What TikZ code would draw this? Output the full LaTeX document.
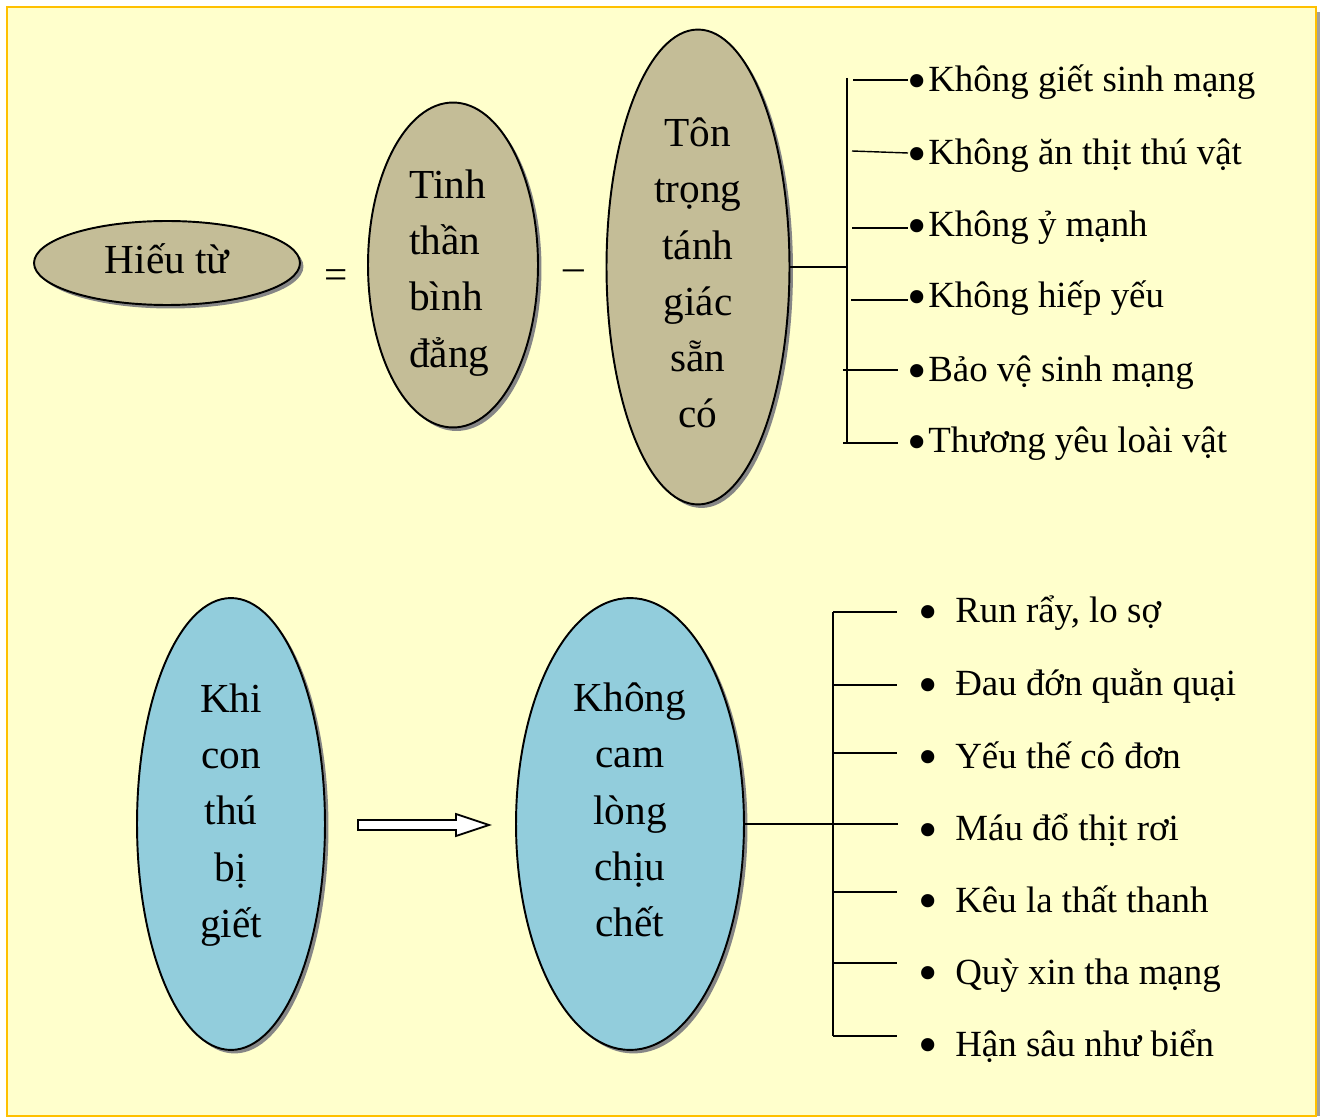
\documentclass[tikz,border=0pt]{standalone}
\usepackage{fontspec}
\setmainfont{Liberation Serif}
\usetikzlibrary{shapes.geometric,shadows}
\definecolor{fundo}{HTML}{FFFFCC}
\definecolor{moldura}{HTML}{FFC000}
\definecolor{caqui}{HTML}{C4BD97}
\definecolor{celeste}{HTML}{92CDDC}
\newcommand{\marca}{\raisebox{-0.2em}{\scalebox{1.5}{•}}}
\tikzset{
  oval/.style={ellipse, draw=black, line width=1.1pt, inner sep=0pt,
    drop shadow={shadow xshift=0.07cm, shadow yshift=-0.07cm, fill=gray!95, opacity=1}},
  bigtext/.style={font=\fontsize{23.5}{32}\selectfont, inner sep=0pt},
  listtext/.style={font=\fontsize{21}{25}\selectfont, inner sep=0pt, anchor=base west},
  linha/.style={line width=0.8pt}
}
\begin{document}
\begin{tikzpicture}[x=0.02cm, y=-0.02cm]
  \useasboundingbox (0,0) rectangle (1320,1118);

  % fundo
  \fill[gray!75] (1316,12) rectangle (1320,1116);
  \filldraw[fill=fundo, draw=moldura, line width=0.04cm] (7,7) rectangle (1316,1116);

  % elipses de cima
  \node[oval, fill=caqui, minimum width=5.32cm, minimum height=1.68cm] (hieu) at (167,263) {};
  \node[bigtext] (hieutxt) at (167,259) {Hiếu từ};
  \node[oval, fill=caqui, minimum width=3.4cm, minimum height=6.5cm] (tinh) at (453,265) {};
  \node[bigtext, align=left, anchor=west] (tinhtxt) at (409,273) {Tinh\\thần\\bình\\đẳng};
  \node[oval, fill=caqui, minimum width=3.66cm, minimum height=9.5cm] (ton) at (698,267) {};
  \node[bigtext, align=center] (tontxt) at (698,273) {Tôn\\trọng\\tánh\\giác\\sẵn\\có};

  % sinais
  \node[bigtext, anchor=base] (igual) at (336,289) {=};
  \node[bigtext, anchor=base] (traco) at (574,281) {–};

  % chave de cima
  \coordinate (cimajunta) at (847,267);
  \draw[linha] (ton.east) -- (cimajunta);
  \draw[linha] (847,78) -- (847,443);
  \foreach \xa/\ya/\xb/\yb in {853/80/908/80, 852/151/908/153, 852/228/908/228,
                               851/300/908/300, 843/370/898/370, 843/443/898/443}
    \draw[linha] (\xa,\ya) -- (\xb,\yb);

  % itens de cima
  \foreach \y/\txt [count=\i] in {92/Không giết sinh mạng, 165/Không ăn thịt thú vật,
                                  237/Không ỷ mạnh, 308/Không hiếp yếu,
                                  382/Bảo vệ sinh mạng, 453/Thương yêu loài vật}
    \node[listtext] (cima\i) at (906,\y) {\makebox[0.44cm][c]{\marca}\txt};

  % elipses de baixo
  \node[oval, fill=celeste, minimum width=3.76cm, minimum height=9.04cm] (khi) at (231,824) {};
  \node[bigtext, align=center] (khitxt) at (231,815) {Khi\\con\\thú\\bị\\giết};
  \node[oval, fill=celeste, minimum width=4.56cm, minimum height=9.04cm] (khong) at (630,824) {};
  \node[bigtext, align=center] (khongtxt) at (630,810) {Không\\cam\\lòng\\chịu\\chết};

  % seta
  \filldraw[fill=white, draw=black, line width=1pt]
    (358,820) -- (456,820) -- (456,814) -- (489,825) -- (456,836) -- (456,830) -- (358,830) -- cycle;

  % chave de baixo
  \coordinate (baixojunta) at (898,824);
  \draw[linha] (khong.east) -- (baixojunta);
  \draw[linha] (833,612) -- (833,1036);
  \foreach \y in {612,685,753,892,963,1036}
    \draw[linha] (833,\y) -- (897,\y);

  % itens de baixo
  \foreach \y/\txt [count=\i] in {623/{Run rẩy, lo sợ}, 696/Đau đớn quằn quại,
                                  768/Yếu thế cô đơn, 841/Máu đổ thịt rơi,
                                  912/Kêu la thất thanh, 984/Quỳ xin tha mạng,
                                  1056/Hận sâu như biển}
    \node[listtext] (baixo\i) at (901,\y) {\makebox[1.08cm][c]{\marca}\txt};
\end{tikzpicture}
\end{document}
